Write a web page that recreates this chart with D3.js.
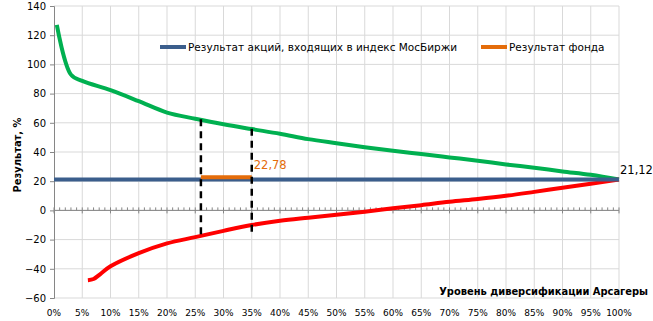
<!DOCTYPE html>
<html>
<head>
<meta charset="utf-8">
<script src="https://cdn.jsdelivr.net/npm/d3@7"></script>
<style>
  body { margin: 0; background: #fff; }
  text { font-family: "DejaVu Sans", sans-serif; }
</style>
</head>
<body>
<div id="chart"></div>
<script>
let svgWidth = 653;
let svgHeight = 321;
let margin = { top: 6, right: 34, bottom: 23, left: 54 };
let width = svgWidth - margin.left - margin.right;
let height = svgHeight - margin.top - margin.bottom;

// Data

let greenX = [0.5, 3, 5, 10, 15, 20, 25, 30, 35, 40, 45, 50, 55, 60, 65, 70, 75, 80, 85, 90, 95, 100];
let greenY = [127, 93, 88.7, 82.3, 74.8, 67, 62.8, 59, 55.7, 52.5, 48.8, 46, 43.3, 40.8, 38.6, 36.3, 34, 31.5, 29.2, 26.7, 24.4, 21.12];

let redX = [6, 7, 8.2, 10, 15, 20, 25, 30, 35, 40, 45, 50, 55, 60, 65, 70, 75, 80, 85, 90, 95, 100];
let redY = [-47.8, -47, -43.6, -38.3, -29.3, -22.6, -18.3, -14, -10, -7.1, -5, -3, -0.9, 1.4, 3.6, 5.9, 7.8, 10, 12.7, 15.5, 18.2, 21.12];

let indexValue = 21.12;
let fundValue = 22.78;
let fundRange = [26, 35];

// dashed guides: x, top, bottom
let guideX = [26, 35];
let guideTop = [62.5, 56];
let guideBottom = [-17.8, -17.8];

let yTicks = [-60, -40, -20, 0, 20, 40, 60, 80, 100, 120, 140];
let xTicks = d3.range(0, 101, 5);

let legendLabels = ["Результат акций, входящих в индекс МосБиржи", "Результат фонда"];
let yTitle = "Результат, %";
let xTitle = "Уровень  диверсификации  Арсагеры";

// Chart

let svg = d3.select("#chart").append("svg").attr("width", svgWidth).attr("height", svgHeight);
let chartGroup = svg.append("g").attr("transform", `translate(${margin.left}, ${margin.top})`);

let x = d3.scaleLinear().domain([0, 100]).range([0, width]);
let y = d3.scaleLinear().domain([-60, 140]).range([height, 0]);

let gridColor = "#d9d9d9";
let axisColor = "#868686";

// gridlines
chartGroup.append("g").selectAll("line")
  .data(yTicks)
  .enter().append("line")
  .attr("x1", 0).attr("x2", width)
  .attr("y1", d => y(d)).attr("y2", d => y(d))
  .attr("stroke", gridColor);

chartGroup.append("g").selectAll("line")
  .data(xTicks.filter(d => d > 0))
  .enter().append("line")
  .attr("x1", d => x(d)).attr("x2", d => x(d))
  .attr("y1", 0).attr("y2", height)
  .attr("stroke", gridColor);

// y axis
let yAxis = chartGroup.append("g")
  .call(d3.axisLeft(y).tickValues(yTicks).tickSize(4).tickPadding(4));
yAxis.select(".domain").attr("stroke", axisColor);
yAxis.selectAll(".tick line").attr("stroke", axisColor);
yAxis.selectAll("text").attr("font-size", 10).attr("fill", "#000").style("font-family", "DejaVu Sans");

// x axis at zero, minor ticks upward, major ticks crossing
let xAxisG = chartGroup.append("g").attr("transform", `translate(0, ${y(0)})`);
xAxisG.append("line").attr("x1", 0).attr("x2", width).attr("stroke", axisColor);
xAxisG.selectAll("line.minor")
  .data(d3.range(0, 101, 1).filter(d => d % 5 !== 0))
  .enter().append("line")
  .attr("class", "minor")
  .attr("x1", d => x(d)).attr("x2", d => x(d))
  .attr("y1", -3).attr("y2", 0)
  .attr("stroke", axisColor);
xAxisG.selectAll("line.major")
  .data(xTicks)
  .enter().append("line")
  .attr("class", "major")
  .attr("x1", d => x(d)).attr("x2", d => x(d))
  .attr("y1", -3).attr("y2", 3)
  .attr("stroke", axisColor);

// x tick labels at bottom
chartGroup.append("g").selectAll("text")
  .data(xTicks)
  .enter().append("text")
  .attr("x", d => x(d))
  .attr("y", height + 18)
  .attr("text-anchor", "middle")
  .attr("font-size", 9)
  .text(d => d + "%");

// lines
let line = d3.line().x(d => x(d[0])).y(d => y(d[1])).curve(d3.curveCatmullRom.alpha(0.5));

chartGroup.append("path")
  .datum(greenX.map((d, i) => [d, greenY[i]]))
  .attr("d", line)
  .attr("fill", "none").attr("stroke", "#00b050").attr("stroke-width", 4);

chartGroup.append("path")
  .datum(redX.map((d, i) => [d, redY[i]]))
  .attr("d", line)
  .attr("fill", "none").attr("stroke", "#ff0000").attr("stroke-width", 4);

chartGroup.append("line")
  .attr("x1", x(0)).attr("x2", x(100))
  .attr("y1", y(indexValue)).attr("y2", y(indexValue))
  .attr("stroke", "#3b5e8c").attr("stroke-width", 4);

chartGroup.append("line")
  .attr("x1", x(fundRange[0])).attr("x2", x(fundRange[1]))
  .attr("y1", y(fundValue)).attr("y2", y(fundValue))
  .attr("stroke", "#e46c0a").attr("stroke-width", 4);

// dashed guides
chartGroup.append("g").selectAll("line")
  .data(guideX)
  .enter().append("line")
  .attr("x1", d => x(d)).attr("x2", d => x(d))
  .attr("y1", (d, i) => y(guideTop[i])).attr("y2", (d, i) => y(guideBottom[i]))
  .attr("stroke", "#000").attr("stroke-width", 2.5)
  .attr("stroke-dasharray", "7,5");

// value labels
chartGroup.append("text")
  .attr("x", x(fundRange[1]) + 2).attr("y", y(fundValue) - 8)
  .attr("font-size", 11.5).attr("fill", "#e46c0a")
  .text("22,78");

chartGroup.append("text")
  .attr("x", x(100) + 1).attr("y", y(indexValue) - 6)
  .attr("font-size", 11.5).attr("fill", "#000")
  .text("21,12");

// legend
let legend = svg.append("g");
let legendX = [160, 481];
let legendColors = ["#3b5e8c", "#e46c0a"];
legendLabels.forEach((lab, i) => {
  legend.append("line")
    .attr("x1", legendX[i]).attr("x2", legendX[i] + 26)
    .attr("y1", 47).attr("y2", 47)
    .attr("stroke", legendColors[i]).attr("stroke-width", 4);
  legend.append("text")
    .attr("x", legendX[i] + 28).attr("y", 51)
    .attr("font-size", 10.5)
    .text(lab);
});

// axis titles
svg.append("text")
  .attr("transform", "translate(21, 155) rotate(-90)")
  .attr("text-anchor", "middle")
  .attr("font-size", 11).attr("font-weight", "bold")
  .style("font-family", "'DejaVu Sans Condensed', 'DejaVu Sans'")
  .text(yTitle);

svg.append("text")
  .attr("x", 648).attr("y", 295)
  .attr("text-anchor", "end")
  .attr("font-size", 11).attr("font-weight", "bold")
  .style("font-family", "'DejaVu Sans Condensed', 'DejaVu Sans'")
  .text(xTitle);
</script>
</body>
</html>
